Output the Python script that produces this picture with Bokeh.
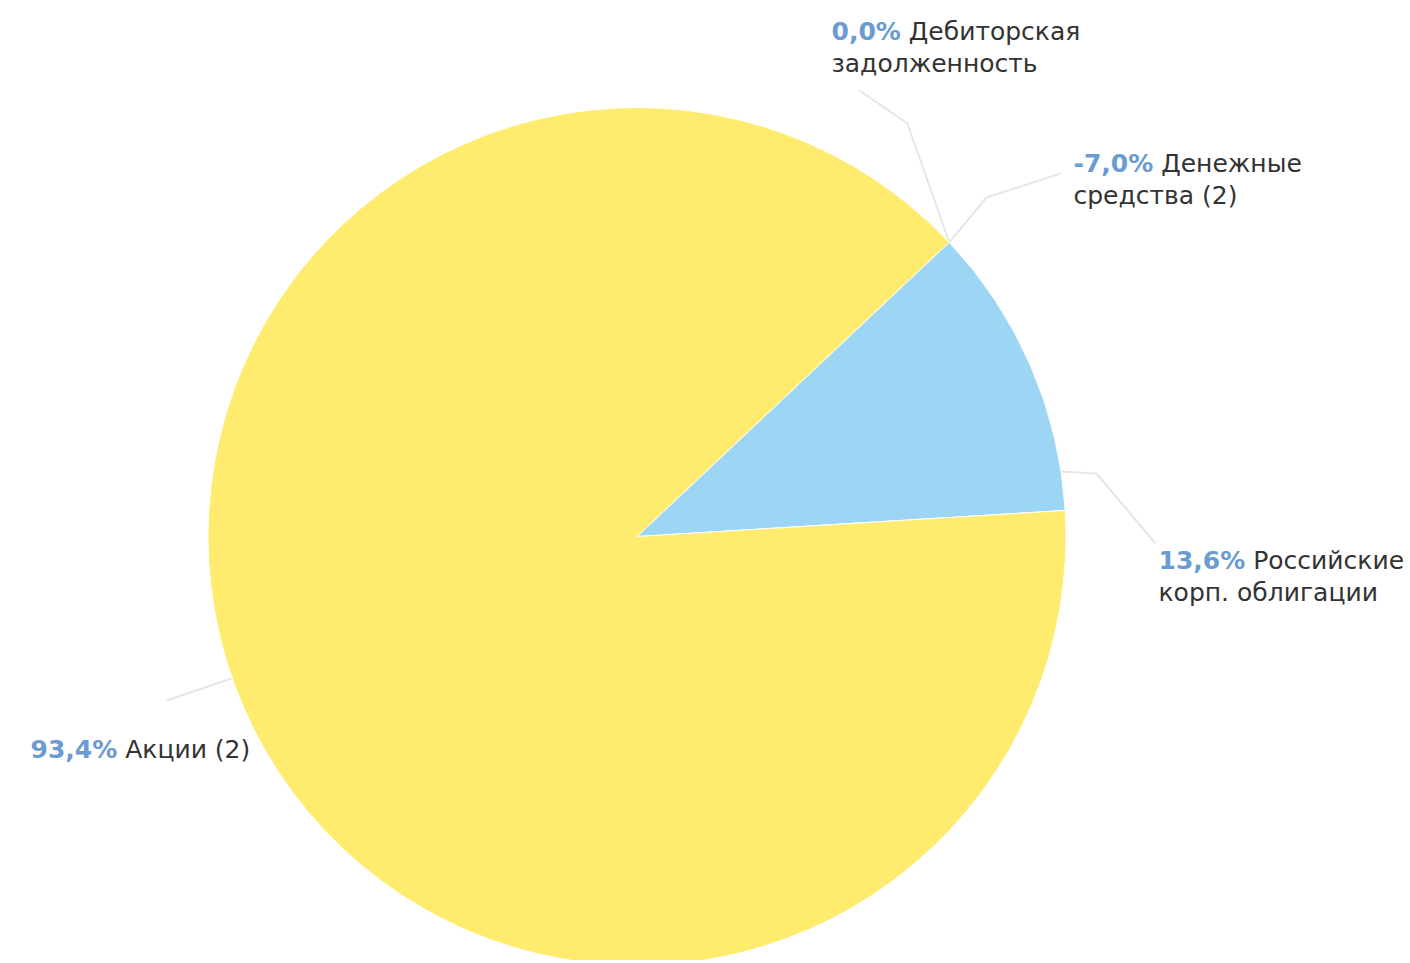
import math
from bokeh.plotting import figure
from bokeh.models import Range1d
from bokeh.core.properties import value
from bokeh.embed import file_html
from bokeh.resources import INLINE

# ---------------- data ----------------
categories = ["Дебиторская задолженность", "Денежные средства (2)",
              "Российские корп. облигации", "Акции (2)"]
name_lines = [["Дебиторская", "задолженность"],
              ["Денежные", "средства (2)"],
              ["Российские", "корп. облигации"],
              ["Акции (2)"]]
pct_values = [0.0, -7.0, 13.6, 93.4]          # printed shares, %
slice_share = [0.0, 0.0, 11.06, 88.94]        # share of the circle as drawn, %
slice_colors = ["#F7A35C", "#8085E9", "#9DD5F4", "#FFEC6E"]

# ---------------- layout ----------------
W, H = 1406, 960
CX, CY, R = 636.5, -536.0, 429.0
START_DEG = 46.7                       # clockwise from 12 o'clock
FONT = "DejaVu Sans"
FS = 25
LINE_H = 32
PCT_COLOR = "#6A9BD1"
TXT_COLOR = "#333333"
CONN_COLOR = "#E6E6E6"

# label layout (screen px): left x, first baseline y
label_pos = [(831, 31), (1073, 163), (1158, 560), (30, 749)]
# connector layout: anchor angle on the rim, elbow, end (screen px)
conn_anchor = [46.7, 46.7, 81.3, 250.7]
conn_elbow = [(907, 123), (986, 197), (1096, 473), (166, 700)]
conn_end = [(859, 90), (1060, 173), (1155, 543), (166, 700)]

p = figure(width=W, height=H, x_range=Range1d(0, W), y_range=Range1d(-H, 0),
           min_border=0, toolbar_location=None, output_backend="svg")
p.axis.visible = False
p.grid.visible = False
p.outline_line_color = None
p.background_fill_color = "white"
p.border_fill_color = "white"

def rim(deg):
    a = math.radians(deg)
    return CX + R * math.sin(a), CY + R * math.cos(a)

# connectors
for anc, el, en in zip(conn_anchor, conn_elbow, conn_end):
    x0, y0 = rim(anc)
    p.line([x0, el[0], en[0]], [y0, -el[1], -en[1]], line_color=CONN_COLOR, line_width=2)

# wedges
cum = START_DEG
for share, col in zip(slice_share, slice_colors):
    span = share / 100.0 * 360.0
    if span > 0:
        a0 = math.radians(90 - cum)
        a1 = math.radians(90 - (cum + span))
        p.wedge(x=[CX], y=[CY], radius=R, start_angle=a0, end_angle=a1,
                direction="clock", fill_color=col, line_color="white", line_width=1)
    cum += span

# width estimate for DejaVu Sans Bold
bold_w = {"0": .696, "1": .696, "2": .696, "3": .696, "4": .696, "5": .696, "6": .696,
          "7": .696, "8": .696, "9": .696, ",": .380, "%": 1.002, "-": .415}
def est_w(s):
    return sum(bold_w.get(c, .7) for c in s) * FS

for v, lines, (lx, ly) in zip(pct_values, name_lines, label_pos):
    pct = f"{v:.1f}%".replace(".", ",")
    p.text(x=[lx], y=[-ly], text=[pct], text_font=value(FONT), text_font_size=f"{FS}px",
           text_font_style="bold", text_color=PCT_COLOR, text_baseline="alphabetic")
    nx = lx + est_w(pct) + 0.318 * FS
    p.text(x=[nx], y=[-ly], text=[lines[0]], text_font=value(FONT), text_font_size=f"{FS}px",
           text_color=TXT_COLOR, text_baseline="alphabetic")
    for i, ln in enumerate(lines[1:], start=1):
        p.text(x=[lx], y=[-(ly + i * LINE_H)], text=[ln], text_font=value(FONT),
               text_font_size=f"{FS}px", text_color=TXT_COLOR, text_baseline="alphabetic")

open("out.html", "w").write(file_html(p, INLINE))
